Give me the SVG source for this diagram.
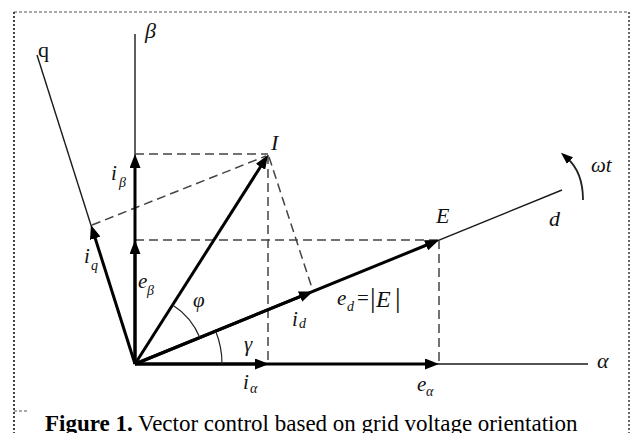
<svg xmlns="http://www.w3.org/2000/svg" width="630" height="433" viewBox="0 0 630 433">
<defs>
<style>
.axis{stroke:#1a1a1a;stroke-width:1.4;fill:none}
.vec{stroke:#000;stroke-width:3;fill:none}
.dash{stroke:#444;stroke-width:1.5;fill:none;stroke-dasharray:9,5}
.arc{stroke:#222;stroke-width:1.2;fill:none}
.lbl{font-family:"Liberation Serif","Times New Roman",serif;font-style:italic;fill:#111}
.up{font-family:"Liberation Serif","Times New Roman",serif;fill:#111}
.big{font-size:22px}
.mid{font-size:21px}
.sub{font-size:14px}
.cap{font-family:"Liberation Serif","Times New Roman",serif;font-size:23px;fill:#000}
</style>
<marker id="ah" viewBox="0 0 14 11" refX="6" refY="5.5" markerWidth="14" markerHeight="11" markerUnits="userSpaceOnUse" orient="auto">
<path d="M0,0 L14,5.5 L0,11 z" fill="#000"/>
</marker>
<marker id="ahs" viewBox="0 0 12 9" refX="4" refY="4.5" markerWidth="12" markerHeight="9" markerUnits="userSpaceOnUse" orient="auto">
<path d="M0,0 L12,4.5 L0,9 z" fill="#000"/>
</marker>
</defs>
<g id="frame">
<line x1="14" y1="12" x2="629" y2="12" stroke="#555" stroke-width="1.2" stroke-dasharray="3,2"/>
<line x1="14" y1="12" x2="14" y2="433" stroke="#444" stroke-width="2" stroke-dasharray="2,2"/>
<line x1="629" y1="12" x2="629" y2="433" stroke="#444" stroke-width="1.6" stroke-dasharray="2,2"/>
<line x1="14" y1="411" x2="28" y2="411" stroke="#555" stroke-width="1.2" stroke-dasharray="3,2"/>
</g>
<g id="connectors">
<line class="axis" x1="135" y1="34" x2="135" y2="364"/>
<line class="axis" x1="37" y1="55" x2="135" y2="364"/>
<line class="axis" x1="135" y1="364" x2="588" y2="364"/>
<line class="axis" x1="135" y1="364" x2="562" y2="190"/>
<line class="dash" x1="135" y1="154" x2="268" y2="154"/>
<line class="dash" x1="92" y1="225" x2="266" y2="156"/>
<line class="dash" x1="135" y1="240" x2="439" y2="240"/>
<line class="dash" x1="268" y1="155" x2="268" y2="364"/>
<line class="dash" x1="439" y1="240" x2="439" y2="364"/>
<line class="dash" x1="269" y1="157" x2="313" y2="291"/>
<line class="vec" x1="135" y1="364" x2="135" y2="162" marker-end="url(#ah)"/>
<line class="vec" x1="135" y1="364" x2="135" y2="248" marker-end="url(#ah)"/>
<line class="vec" x1="135" y1="364" x2="93.4" y2="232.6" marker-end="url(#ah)"/>
<line class="vec" x1="135" y1="364" x2="263.7" y2="161.8" marker-end="url(#ah)"/>
<line class="vec" x1="135" y1="364" x2="431.6" y2="243" marker-end="url(#ah)"/>
<line class="vec" x1="135" y1="364" x2="305.6" y2="294.4" marker-end="url(#ah)"/>
<line class="vec" x1="135" y1="364" x2="261" y2="364" marker-end="url(#ah)"/>
<line class="vec" x1="135" y1="364" x2="431" y2="364" marker-end="url(#ah)"/>
<path class="arc" d="M172.6,305 A70,70 0 0 1 199.8,337.6"/>
<path class="arc" d="M215.6,331.1 A87,87 0 0 1 222,364"/>
<path d="M583,200 Q583,172 567,158" stroke="#222" stroke-width="1.8" fill="none" marker-end="url(#ahs)"/>
</g>
<g id="labels">
<text class="lbl big" x="145" y="38">β</text>
<text class="up big" x="38" y="57">q</text>
<text class="lbl big" x="271" y="150">I</text>
<text class="lbl big" x="436" y="223">E</text>
<text class="lbl big" x="549" y="226">d</text>
<text class="lbl mid" x="591" y="172">ωt</text>
<text class="lbl big" x="597" y="368">α</text>
<text class="lbl mid" x="111" y="180">i</text><text class="lbl sub" x="119" y="187">β</text>
<text class="lbl mid" x="84" y="263">i</text><text class="lbl sub" x="91" y="270">q</text>
<text class="lbl mid" x="138" y="288">e</text><text class="lbl sub" x="147" y="295">β</text>
<text class="lbl mid" x="193" y="307">φ</text>
<text class="lbl mid" x="244" y="351">γ</text>
<text class="lbl mid" x="292" y="326">i</text><text class="lbl sub" x="299" y="328">d</text>
<text class="lbl mid" x="243" y="389">i</text><text class="lbl sub" x="250" y="393">α</text>
<text class="lbl mid" x="417" y="391">e</text><text class="lbl sub" x="426" y="396">α</text>
<text class="lbl mid" x="337" y="305">e</text><text class="lbl sub" x="347" y="311">d</text>
<text class="up mid" x="357" y="305">=</text>
<text class="up" x="370" y="307" font-size="28">|</text>
<text class="lbl" x="376" y="307" font-size="24">E</text>
<text class="up" x="395" y="307" font-size="28">|</text>
</g>
<g id="caption">
<text class="cap" x="45" y="431"><tspan font-weight="bold">Figure 1.</tspan> Vector control based on grid voltage orientation</text>
</g>
</svg>
